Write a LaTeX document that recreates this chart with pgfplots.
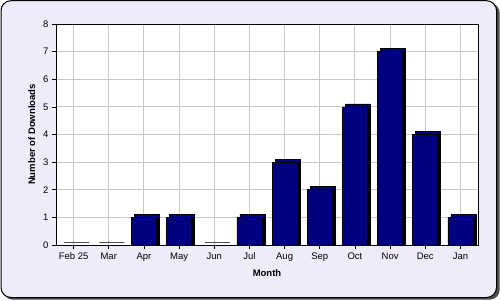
\documentclass[border=0pt]{standalone}
\usepackage{pgfplots}
\usepackage{pgfplotstable}
\pgfplotsset{compat=1.18}
\usepackage{fontspec}
\setmainfont{Liberation Sans}
\definecolor{bg}{RGB}{236,236,250}
\definecolor{navy}{RGB}{0,0,128}
\pgfplotstableread{
x y
0 0
1 0
2 1
3 1
4 0
5 1
6 3
7 2
8 5
9 7
10 4
11 1
}\downloads
\begin{document}
\begin{tikzpicture}[x=1pt,y=1pt]
\useasboundingbox (0,0) rectangle (500,300);
\fill[black!70, rounded corners=10pt] (3,0.3) rectangle (499.7,297);
\draw[black, line width=1pt, fill=bg, rounded corners=10pt] (1,2.5) rectangle (496.5,299.3);
\begin{axis}[
  at={(56pt,55pt)}, anchor=south west,
  scale only axis, width=422pt, height=221pt,
  xmin=-0.5, xmax=11.5, ymin=0, ymax=8,
  xtick={0,...,11},
  xticklabels={Feb 25,Mar,Apr,May,Jun,Jul,Aug,Sep,Oct,Nov,Dec,Jan},
  ytick={0,...,8},
  grid=major,
  grid style={draw=black!22, line width=1pt},
  axis background/.style={fill=white},
  axis line style={black, line width=0.9pt},
  tick align=outside,
  major tick length=4pt,
  tick style={black, line width=0.6pt},
  xtick pos=bottom, ytick pos=left,
  /pgf/number format/assume math mode=true,
  tick label style={font=\fontsize{9.5}{11}\selectfont},
  label style={font=\fontsize{9.5}{11}\selectfont\bfseries},
  xlabel={Month},
  ylabel={Number of Downloads},
  xlabel style={yshift=-2pt},
  ylabel style={yshift=1pt},
  clip=false,
]
\addplot[ybar, bar width=25pt, bar shift=0pt, fill=navy, draw=black, line width=0.6pt, xshift=3pt, yshift=3pt] table[x=x,y=y] {\downloads};
\addplot[ybar, bar width=25pt, bar shift=0pt, fill=black, draw=black, line width=0.6pt, xshift=3pt, yshift=0pt, forget plot] table[x=x,y=y] {\downloads};
\addplot[ybar, bar width=25pt, bar shift=0pt, fill=navy, draw=black, line width=0.7pt] table[x=x,y=y] {\downloads};
\end{axis}
\end{tikzpicture}
\end{document}
